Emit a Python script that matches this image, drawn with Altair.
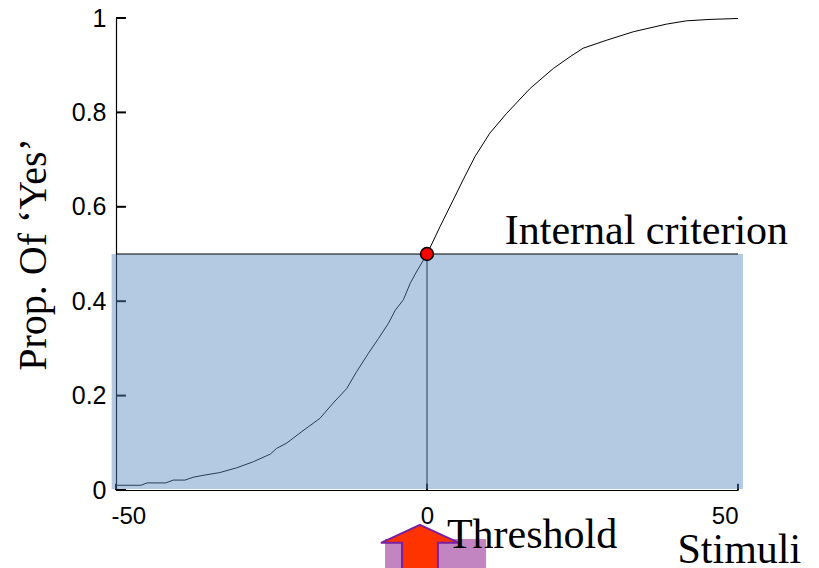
import altair as alt
import pandas as pd

# psychometric curve
curve_x = [-50, -46, -45, -42, -40.8, -38.9, -37.6, -36, -33.3, -30.6, -27.9, -25.2,
           -24.2, -22.6, -20.1, -17.2, -15.1, -12.9, -11.3, -9.4, -7.8, -6.2, -5.1,
           -3.8, -2.7, -1.7, 0, 2.1, 4.2, 5.8, 7.7, 10.1, 12.8, 16.6, 20.3, 23, 25.1,
           28.9, 33.2, 38.5, 41.7, 45.5, 50]
curve_y = [0.010, 0.010, 0.015, 0.015, 0.021, 0.021, 0.027, 0.031, 0.037, 0.047,
           0.060, 0.076, 0.088, 0.099, 0.124, 0.152, 0.184, 0.215, 0.251, 0.290,
           0.321, 0.353, 0.381, 0.403, 0.438, 0.462, 0.500, 0.558, 0.614, 0.657,
           0.706, 0.756, 0.798, 0.851, 0.893, 0.918, 0.936, 0.953, 0.971, 0.987,
           0.994, 0.997, 0.999]
criterion = 0.5
threshold = 0.0
y_ticks = [0, 0.2, 0.4, 0.6, 0.8, 1.0]
x_ticks = [-50, 0, 50]

SERIF = "Liberation Serif"
SANS = "Liberation Sans"

xs = alt.Scale(domain=[-50, 50], nice=False, zero=False)
ys = alt.Scale(domain=[0, 1], nice=False, zero=False)

x_axis = alt.Axis(
    values=x_ticks, labelExpr="'' + datum.value", grid=False, ticks=False, tickSize=0,
    domainColor="black", domainWidth=1.2,
    labelFont=SANS, labelFontSize=24, labelColor="black",
    labelPadding=14, labelBaseline="top",
    labelOffset={"condition": {"test": "datum.value == -50", "value": -5}, "value": 0},
    title="Stimuli", titleFont=SERIF, titleFontSize=42, titleFontWeight="normal",
    titleColor="black", titleAnchor="start", titleAlign="left",
    titleBaseline="alphabetic", titleX=561, titleY=72)
y_axis = alt.Axis(
    values=y_ticks, format=".1~f", grid=False, ticks=False, tickSize=0,
    domainColor="black", domainWidth=1.2,
    labelFont=SANS, labelFontSize=25, labelColor="black", labelPadding=10,
    title="Prop. Of \u2018Yes\u2019", titleFont=SERIF, titleFontSize=40,
    titleFontWeight="normal", titleColor="black", titleAngle=270,
    titleAlign="center", titleBaseline="alphabetic", titleX=-71, titleY=236)


def X():
    return alt.X("x:Q", scale=xs, axis=x_axis, title="Stimuli")


def Y():
    return alt.Y("y:Q", scale=ys, axis=y_axis, title="Prop. Of \u2018Yes\u2019")


curve_df = pd.DataFrame({"x": curve_x, "y": curve_y})
curve = alt.Chart(curve_df).mark_line(color="black", strokeWidth=1).encode(x=X(), y=Y())

# inward tick marks
ytick_df = pd.DataFrame({"y": y_ticks, "x": [-50] * len(y_ticks), "x2": [-48.4] * len(y_ticks)})
yticks = alt.Chart(ytick_df).mark_rule(color="black", strokeWidth=2).encode(
    x=X(), x2="x2:Q", y=Y())
xtick_df = pd.DataFrame({"x": x_ticks, "y": [0] * 3, "y2": [0.013] * 3})
xticks = alt.Chart(xtick_df).mark_rule(color="black", strokeWidth=2).encode(
    x=X(), y=Y(), y2="y2:Q")

# vertical line from threshold down to 0
vline = alt.Chart(pd.DataFrame({"x": [threshold], "y": [0], "y2": [criterion]})).mark_rule(
    color="black", strokeWidth=1).encode(x=X(), y=Y(), y2="y2:Q")

# translucent region below criterion
region = alt.Chart(pd.DataFrame({"x": [-50.7], "x2": [50.8], "y": [0.002], "y2": [criterion]})).mark_rect(
    color="#5889C1", opacity=0.45).encode(x=X(), x2="x2:Q", y=Y(), y2="y2:Q")

# criterion line
hline = alt.Chart(pd.DataFrame({"x": [-50], "x2": [50], "y": [criterion]})).mark_rule(
    color="black", strokeWidth=1).encode(x=X(), x2="x2:Q", y=Y())

dot = alt.Chart(pd.DataFrame({"x": [threshold], "y": [criterion]})).mark_point(
    shape="circle", filled=True, fill="#FF0000", stroke="black", strokeWidth=1.5,
    size=165, opacity=1).encode(x=X(), y=Y())

crit_text = alt.Chart(pd.DataFrame({"x": [12.5], "y": [0.521], "t": ["Internal criterion"]})).mark_text(
    font=SERIF, fontSize=42, align="left", baseline="alphabetic", color="black").encode(
    x=X(), y=Y(), text="t:N")

box = alt.Chart(pd.DataFrame({"x": [-6.75], "x2": [9.5], "y": [-0.104], "y2": [-0.2]})).mark_rect(
    color="#C285C2").encode(x=X(), x2="x2:Q", y=Y(), y2="y2:Q")

arrow_path = "M0,-0.46L1,0L0.46,0L0.46,0.9L-0.46,0.9L-0.46,0L-1,0Z"
arrow = alt.Chart(pd.DataFrame({"x": [-1.13], "y": [-0.112]})).mark_point(
    shape=arrow_path, filled=True, fill="#FF3300", stroke="#7A1FA0", strokeWidth=2,
    size=6084, opacity=1).encode(x=X(), y=Y())

thr_text = alt.Chart(pd.DataFrame({"x": [3.2], "y": [-0.123], "t": ["Threshold"]})).mark_text(
    font=SERIF, fontSize=42, align="left", baseline="alphabetic", color="black").encode(
    x=X(), y=Y(), text="t:N")

chart = alt.layer(
    curve, yticks, xticks, vline, region, hline, dot, crit_text, box, arrow, thr_text
).properties(
    width=622, height=472,
    autosize=alt.AutoSizeParams(type="none"),
    padding={"left": 108, "top": 10, "right": 73, "bottom": 95},
).configure_view(stroke=None)

chart.save("out.html", embed_options={"renderer": "svg", "actions": False})
